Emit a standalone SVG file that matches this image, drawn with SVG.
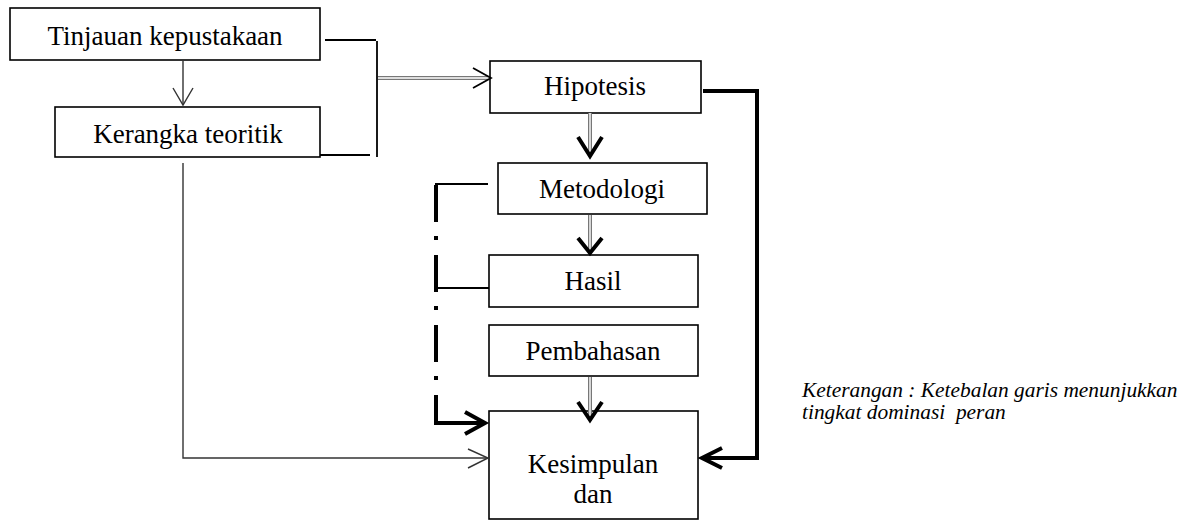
<svg xmlns="http://www.w3.org/2000/svg" width="1189" height="521" viewBox="0 0 1189 521">
<style>
.box{fill:#fff;stroke:#000;stroke-width:1.6}
.t{font-family:"Liberation Serif","Times New Roman",serif;font-size:27px;fill:#000;text-anchor:middle}
.note{font-family:"Liberation Serif","Times New Roman",serif;font-size:21.4px;font-style:italic;fill:#000}
.thin{fill:none;stroke:#000;stroke-width:1.8}
.gthin{fill:none;stroke:#333;stroke-width:1.4}
.thick{fill:none;stroke:#000;stroke-width:4}
.dbl-o{fill:none;stroke:#777;stroke-width:4}
.dbl-i{fill:none;stroke:#fff;stroke-width:1.4}
</style>
<rect width="1189" height="521" fill="#fff"/>
<g id="n-tinjauan">
  <rect class="box" x="10" y="8" width="310" height="52"/>
  <text class="t" x="165" y="45">Tinjauan kepustakaan</text>
</g>
<g id="n-kerangka">
  <rect class="box" x="55" y="107" width="265" height="50"/>
  <text class="t" x="188" y="143">Kerangka teoritik</text>
</g>
<g id="n-hipotesis">
  <rect class="box" x="490" y="61" width="211" height="52"/>
  <text class="t" x="595" y="95">Hipotesis</text>
</g>
<g id="n-metodologi">
  <rect class="box" x="498" y="163" width="209" height="51"/>
  <text class="t" x="602" y="198">Metodologi</text>
</g>
<g id="n-hasil">
  <rect class="box" x="489" y="255" width="209" height="52"/>
  <text class="t" x="593" y="290">Hasil</text>
</g>
<g id="n-pembahasan">
  <rect class="box" x="489" y="325" width="209" height="51"/>
  <text class="t" x="593" y="360">Pembahasan</text>
</g>
<g id="n-kesimpulan">
  <rect class="box" x="489" y="411" width="209" height="108"/>
  <text class="t" x="593" y="473">Kesimpulan</text>
  <text class="t" x="593" y="503">dan</text>
</g>
<g id="connectors">
  <line class="gthin" x1="183" y1="61" x2="183" y2="105"/>
  <path class="gthin" d="M173,88 L183,105 L193,88"/>
  <path class="thin" d="M325,40 L376,40"/>
  <path class="thin" d="M320,155 L370,155"/>
  <line class="thin" x1="377" y1="41" x2="377" y2="157"/>
  <line class="dbl-o" x1="378" y1="78" x2="489" y2="78"/>
  <line class="dbl-i" x1="378" y1="78" x2="489" y2="78"/>
  <path class="thin" d="M473,68 L491,78 L473,88" stroke-width="2.2"/>
  <line class="dbl-o" x1="590" y1="113" x2="590" y2="154"/>
  <line class="dbl-i" x1="590" y1="113" x2="590" y2="154"/>
  <path class="thick" d="M578,137 L590,156 L602,137" stroke-width="3.5"/>
  <line class="dbl-o" x1="590" y1="215" x2="590" y2="251"/>
  <line class="dbl-i" x1="590" y1="215" x2="590" y2="251"/>
  <path class="thick" d="M578,238 L590,253 L602,238" stroke-width="3.5"/>
  <line class="dbl-o" x1="590" y1="377" x2="590" y2="417"/>
  <line class="dbl-i" x1="590" y1="377" x2="590" y2="417"/>
  <path class="thick" d="M578,402 L590,420 L602,402" stroke-width="3.5"/>
  <path class="thick" d="M703,91 L757,91 L757,458 L702,458"/>
  <path class="thick" d="M722,448 L702,458 L722,468"/>
  <path class="gthin" d="M183,163 L183,458 L487,458"/>
  <path class="gthin" d="M468,449 L488,458 L468,468"/>
  <path class="thin" d="M435,184 L488,184"/>
  <path class="thin" d="M436,288 L489,288"/>
  <line x1="436" y1="185" x2="436" y2="425" stroke="#000" stroke-width="4" stroke-dasharray="37 14 4 15"/>
  <path class="thick" d="M434,423 L484,423"/>
  <path class="thick" d="M465,412 L485,423 L465,434"/>
</g>
<g id="note">
  <text class="note" x="802" y="397">Keterangan : Ketebalan garis menunjukkan</text>
  <text class="note" x="802" y="419" xml:space="preserve">tingkat dominasi  peran</text>
</g>
</svg>
